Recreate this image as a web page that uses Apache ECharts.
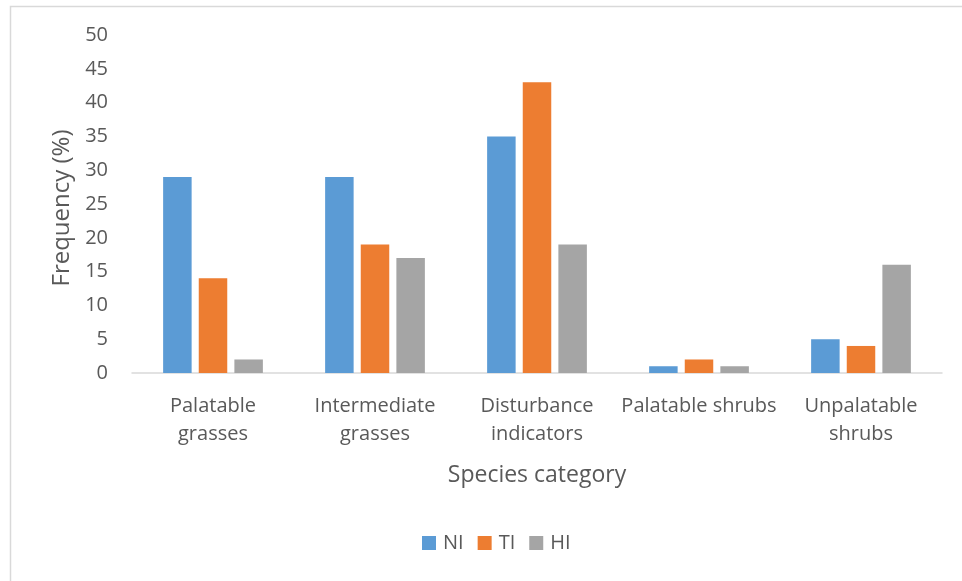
<!DOCTYPE html>
<html>
<head>
<meta charset="utf-8">
<script src="https://cdn.jsdelivr.net/npm/echarts@6/dist/echarts.min.js"></script>
<style>
html,body{margin:0;padding:0;background:#fff;}
#chart{width:962px;height:581px;}
</style>
</head>
<body>
<div id="chart"></div>
<script>
const categories = ["Palatable\ngrasses", "Intermediate\ngrasses", "Disturbance\nindicators", "Palatable shrubs", "Unpalatable\nshrubs"];
const seriesNames = ["NI", "TI", "HI"];
const valuesNI = [29, 29, 35, 1, 5];
const valuesTI = [14, 19, 43, 2, 4];
const valuesHI = [2, 17, 19, 1, 16];
const yTicks = [0, 5, 10, 15, 20, 25, 30, 35, 40, 45, 50];
const colors = ["#5B9BD5", "#ED7D31", "#A5A5A5"];

const FONT = "Open Sans";
const TXT = "#595959";
const chart = echarts.init(document.getElementById('chart'), null, {renderer: 'canvas'});
const allValues = [valuesNI, valuesTI, valuesHI];
chart.setOption({
  animation: false,
  backgroundColor: '#fff',
  color: colors,
  textStyle: {fontFamily: FONT, color: TXT},
  graphic: [{
    type: 'rect', silent: true, z: -1,
    shape: {x: 10.5, y: 6.5, width: 1200, height: 1200},
    style: {fill: 'none', stroke: '#d9d9d9', lineWidth: 1.5}
  }],
  grid: {left: 132, right: 20, top: 35, bottom: 208, containLabel: false},
  legend: {
    data: seriesNames,
    top: 533,
    left: 422,
    padding: 0,
    itemWidth: 14,
    itemHeight: 14,
    itemGap: 14,
    icon: 'rect',
    textStyle: {fontFamily: FONT, fontSize: 20, color: TXT, padding: [0,0,0,2]}
  },
  xAxis: {
    type: 'category',
    data: categories,
    name: 'Species category',
    nameLocation: 'middle',
    nameGap: 91,
    nameTextStyle: {fontFamily: FONT, fontSize: 23, color: TXT},
    axisLine: {show: true, lineStyle: {color: '#d9d9d9', width: 1.5}},
    axisTick: {show: false},
    axisLabel: {fontFamily: FONT, fontSize: 20, color: TXT, lineHeight: 28, margin: 19, interval: 0}
  },
  yAxis: {
    type: 'value',
    min: yTicks[0],
    max: yTicks[yTicks.length - 1],
    interval: yTicks[1] - yTicks[0],
    name: 'Frequency (%)',
    nameLocation: 'middle',
    nameGap: 58,
    nameTextStyle: {fontFamily: FONT, fontSize: 24, color: TXT, padding: [0, 8, 0, 0]},
    axisLine: {show: false},
    axisTick: {show: false},
    splitLine: {show: false},
    axisLabel: {fontFamily: FONT, fontSize: 20, color: TXT, margin: 24}
  },
  series: seriesNames.map((n, i) => ({
    name: n,
    type: 'bar',
    data: allValues[i],
    barWidth: 28.5,
    barGap: '25%',
    itemStyle: {color: colors[i]}
  }))
});
</script>
</body>
</html>
